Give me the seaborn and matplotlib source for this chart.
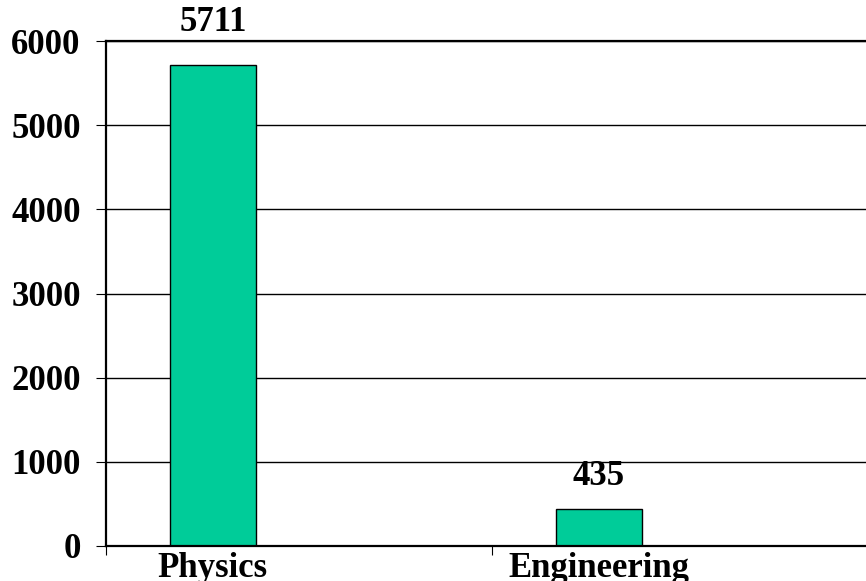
import matplotlib.pyplot as plt
import pandas as pd
import seaborn as sns

# Chart data
categories = ['Physics', 'Engineering']
counts = [5711, 435]
y_ticks = [0, 1000, 2000, 3000, 4000, 5000, 6000]
label_offsets_px = [26, 16]

df = pd.DataFrame({'field': categories, 'count': counts})

sns.set_style('white')
plt.rcParams['font.family'] = ['Liberation Serif', 'DejaVu Serif']
plt.rcParams['font.weight'] = 'bold'
plt.rcParams['text.color'] = 'black'
plt.rcParams['xtick.color'] = 'black'
plt.rcParams['ytick.color'] = 'black'

fig = plt.figure(figsize=(8.66, 5.81), dpi=100)
# axes run past the right edge of the picture, like the original
ax = fig.add_axes([106 / 866, 35 / 581, 772 / 866, 505 / 581])

sns.barplot(data=df, x='field', y='count', color='#00CC99', width=0.222,
            edgecolor='black', linewidth=1.0, saturation=1, ax=ax)

# bars sit left of the middle of their slots
ax.set_xlim(-0.277, 1.723)
ax.set_ylim(0, 6000)
ax.set_yticks(y_ticks)
ax.set_yticklabels([str(t) for t in y_ticks], fontsize=25, fontweight='bold')
ax.set_xticks(range(len(categories)))
ax.set_xticklabels(categories, fontsize=25, fontweight='bold')
ax.set_xticks([-0.277, 0.723, 1.723], minor=True)
ax.tick_params(axis='x', which='major', length=0, pad=4)
ax.tick_params(axis='x', which='minor', length=6.5, width=0.8, direction='out', color='black', bottom=True)
ax.tick_params(axis='y', length=7.2, width=0.8, direction='out', color='black', pad=11, left=True)
ax.set_xlabel('')
ax.set_ylabel('')

# horizontal grid lines
ax.yaxis.grid(True, color='black', linewidth=1.0)
ax.set_axisbelow(True)

for side in ['left', 'bottom', 'top', 'right']:
    ax.spines[side].set_visible(True)
    ax.spines[side].set_color('black')
    ax.spines[side].set_linewidth(1.6)

# value labels above bars
for i, (v, off) in enumerate(zip(counts, label_offsets_px)):
    ax.annotate(str(v), xy=(i, v), xytext=(0, off * 0.72), textcoords='offset points',
                ha='center', va='bottom', fontsize=25, fontweight='bold', color='black')

fig.savefig('out.png', dpi=100)
